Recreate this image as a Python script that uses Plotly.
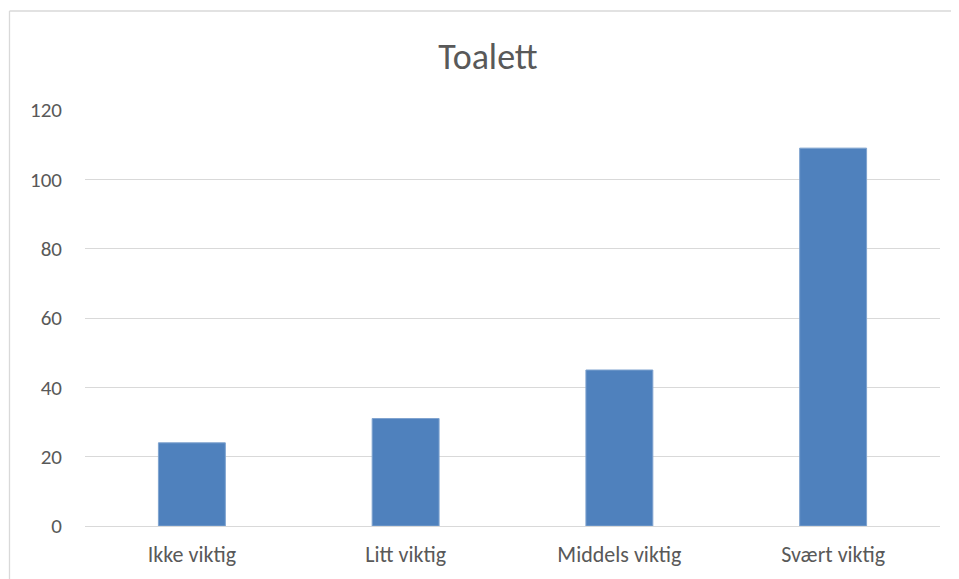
import plotly.graph_objects as go

categories = ["Ikke viktig", "Litt viktig", "Middels viktig", "Svært viktig"]
values = [24, 31, 45, 109]
y_ticks = [0, 20, 40, 60, 80, 100, 120]

font_family = "Carlito, Calibri, Lato, 'Open Sans', sans-serif"
text_color = "#595959"

# page body has an 8px margin, so compensate in the layout
OFF = 8
W, H = 959 - OFF, 579 - OFF
L, T = 85 - OFF, 110 - OFF
PW, PH = 855, 416

fig = go.Figure(
    go.Bar(
        x=categories,
        y=values,
        marker=dict(color="#4F81BD", line=dict(color="#7FA3CF", width=1)),
    )
)

bx0 = (9.5 - 85) / PW
by1 = (526 - 11) / PH
border = dict(color="#D9D9D9", width=1.3)

fig.update_layout(
    width=W,
    height=H,
    margin=dict(l=L, r=W - L - PW, t=T, b=H - T - PH),
    paper_bgcolor="white",
    plot_bgcolor="white",
    bargap=0.687,
    showlegend=False,
    title=dict(
        text="Toalett",
        x=(488 - OFF) / W,
        xanchor="center",
        y=1 - (56 - OFF) / H,
        yanchor="middle",
        font=dict(family=font_family, size=36, color=text_color),
    ),
    font=dict(family=font_family, color=text_color),
    xaxis=dict(
        showgrid=False,
        showline=False,
        ticks="",
        automargin=False,
        tickfont=dict(size=22, color=text_color),
        ticklabelstandoff=13,
    ),
    yaxis=dict(
        range=[0, 120],
        tickvals=y_ticks,
        showgrid=True,
        gridcolor="#D9D9D9",
        gridwidth=1.3,
        zeroline=True,
        zerolinecolor="#D9D9D9",
        zerolinewidth=1.3,
        showline=False,
        ticks="",
        automargin=False,
        tickfont=dict(size=21, color=text_color),
        ticklabelstandoff=22,
    ),
    shapes=[
        dict(type="line", xref="paper", yref="paper",
             x0=bx0, x1=1.1, y0=by1, y1=by1, line=border, layer="below"),
        dict(type="line", xref="paper", yref="paper",
             x0=bx0, x1=bx0, y0=-0.2, y1=by1, line=border, layer="below"),
    ],
)

fig.write_html("out.html")
